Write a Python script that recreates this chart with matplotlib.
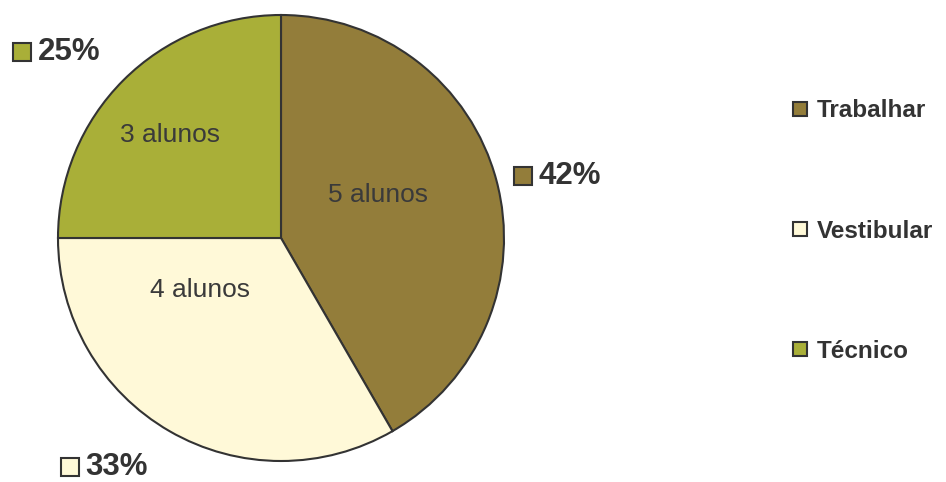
import matplotlib.pyplot as plt

# data
categories = ["Trabalhar", "Vestibular", "Técnico"]
alunos = [5, 4, 3]
percent_labels = ["42%", "33%", "25%"]
inner_labels = ["5 alunos", "4 alunos", "3 alunos"]
colors = ["#937D3A", "#FFF9D8", "#A9AF38"]

edge = "#333333"
plt.rcParams['font.family'] = ['Liberation Sans', 'DejaVu Sans']

fig = plt.figure(figsize=(9.46, 4.82), dpi=100)
ax = fig.add_axes([58 / 946, 21 / 482, 446 / 946, 446 / 482])

wedges, _ = ax.pie(alunos, colors=colors, startangle=90, counterclock=False,
                   radius=1.0, wedgeprops=dict(edgecolor=edge, linewidth=1.5))
ax.set_xlim(-1, 1)
ax.set_ylim(-1, 1)
ax.set_aspect('equal')

# label positions (layout, data units)
inner_pos = [(0.435, 0.193), (-0.363, -0.233), (-0.498, 0.462)]
for txt, (x, y) in zip(inner_labels, inner_pos):
    ax.text(x, y, txt, ha='center', va='center', fontsize=19, color='#3a3a3a')

pct_pos = [(1.085, 0.277), (-0.946, -1.025), (-1.161, 0.833)]
for txt, c, (x, y) in zip(percent_labels, colors, pct_pos):
    ax.plot([x], [y], marker='s', markersize=13, markerfacecolor=c,
            markeredgecolor=edge, markeredgewidth=1.5, clip_on=False, linestyle='none')
    ax.text(x + 0.07, y, txt, ha='left', va='center', fontsize=22.5,
            fontweight='bold', color='#333333', clip_on=False)

# legend
handles = [plt.Line2D([], [], marker='s', markersize=10, markerfacecolor=c,
                      markeredgecolor=edge, markeredgewidth=1.5, linestyle='none')
           for c in colors]
fig.legend(handles, categories, loc='center left', bbox_to_anchor=(766 / 946, 1 - 231 / 482),
           frameon=False, labelspacing=4.0, handletextpad=0.2,
           prop=dict(weight='bold', size=17.5), labelcolor='#333333', handlelength=1.0)

fig.savefig("out.png", dpi=100)
